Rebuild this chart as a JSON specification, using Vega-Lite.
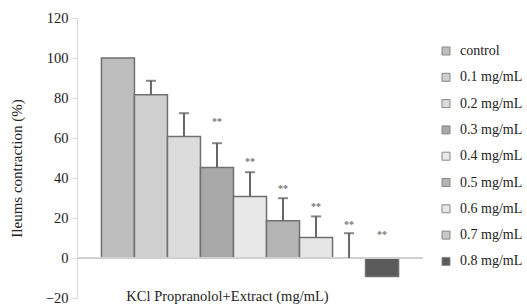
{
  "$schema": "https://vega.github.io/schema/vega-lite/v6.json",
  "width": 346,
  "height": 280,
  "autosize": {"type": "none"},
  "padding": {"left": 77, "top": 18, "right": 104, "bottom": 6},
  "background": "white",
  "config": {
    "view": {"stroke": null},
    "font": "Liberation Serif",
    "axisY": {
      "values": [-20, 0, 20, 40, 60, 80, 100, 120],
      "grid": false,
      "labelOverlap": false,
      "domainColor": "#d8d8d8",
      "tickColor": "#d8d8d8",
      "tickSize": 5,
      "labelPadding": 4,
      "labelFont": "Liberation Serif",
      "labelFontSize": 14.5,
      "labelColor": "#222",
      "titleFont": "Liberation Serif",
      "titleFontSize": 15,
      "titleFontWeight": "normal",
      "titleColor": "#222",
      "titleAngle": -90,
      "titleX": -61,
      "titleY": 150,
      "titleBaseline": "middle",
      "titleAlign": "center"
    }
  },
  "data": {
    "values": [
      {"group": "control", "value": 100, "hi": null, "starY": null, "star": null},
      {"group": "0.1 mg/mL", "value": 81.6, "hi": 88.6, "starY": null, "star": null},
      {"group": "0.2 mg/mL", "value": 60.8, "hi": 72.4, "starY": null, "star": null},
      {"group": "0.3 mg/mL", "value": 45.3, "hi": 57.4, "starY": 67.9, "star": "**"},
      {"group": "0.4 mg/mL", "value": 30.8, "hi": 42.9, "starY": 47.9, "star": "**"},
      {"group": "0.5 mg/mL", "value": 18.6, "hi": 29.9, "starY": 34.3, "star": "**"},
      {"group": "0.6 mg/mL", "value": 10.3, "hi": 20.8, "starY": 25.3, "star": "**"},
      {"group": "0.7 mg/mL", "value": 0, "hi": 12.4, "starY": 16.6, "star": "**"},
      {"group": "0.8 mg/mL", "value": -9.3, "hi": null, "starY": 11.3, "star": "**"}
    ]
  },
  "encoding": {
    "x": {
      "field": "group",
      "type": "nominal",
      "sort": ["control", "0.1 mg/mL", "0.2 mg/mL", "0.3 mg/mL", "0.4 mg/mL", "0.5 mg/mL", "0.6 mg/mL", "0.7 mg/mL", "0.8 mg/mL"],
      "scale": {"paddingInner": 0, "paddingOuter": 0.74},
      "axis": {
        "labels": false,
        "ticks": false,
        "domain": false,
        "title": "KCl Propranolol+Extract (mg/mL)",
        "titleFont": "Liberation Serif",
        "titleFontSize": 14.5,
        "titleFontWeight": "normal",
        "titleColor": "#222",
        "titleX": 150,
        "titleY": -2,
        "titleBaseline": "middle",
        "titleAlign": "center"
      }
    }
  },
  "layer": [
    {
      "mark": {"type": "bar", "stroke": "#707070", "strokeWidth": 1.5},
      "encoding": {
        "y": {
          "field": "value",
          "type": "quantitative",
          "scale": {"domain": [-20, 120], "nice": false},
          "axis": {"title": "Ileums contraction (%)", "labelOverlap": false, "values": [-20, 0, 20, 40, 60, 80, 100, 120]}
        },
        "fill": {
          "field": "group",
          "type": "nominal",
          "sort": ["control", "0.1 mg/mL", "0.2 mg/mL", "0.3 mg/mL", "0.4 mg/mL", "0.5 mg/mL", "0.6 mg/mL", "0.7 mg/mL", "0.8 mg/mL"],
          "scale": {
            "domain": ["control", "0.1 mg/mL", "0.2 mg/mL", "0.3 mg/mL", "0.4 mg/mL", "0.5 mg/mL", "0.6 mg/mL", "0.7 mg/mL", "0.8 mg/mL"],
            "range": ["#bdbdbd", "#cfcfcf", "#dcdcdc", "#a8a8a8", "#e8e8e8", "#b4b4b4", "#e6e6e6", "#c8c8c8", "#5a5a5a"]
          },
          "legend": {
            "title": null,
            "orient": "none",
            "legendX": 362,
            "legendY": 26,
            "symbolType": "square",
            "symbolSize": 64,
            "symbolStrokeColor": "#888",
            "symbolStrokeWidth": 1,
            "labelFont": "Liberation Serif",
            "labelFontSize": 14,
            "labelColor": "#222",
            "labelOffset": 7,
            "rowPadding": 12.3
          }
        }
      }
    },
    {
      "mark": {"type": "rule", "color": "#d0d0d0", "strokeWidth": 1},
      "encoding": {
        "x": null,
        "y": {"datum": 0, "type": "quantitative", "axis": {"title": "Ileums contraction (%)", "labelOverlap": false, "values": [-20, 0, 20, 40, 60, 80, 100, 120]}}
      }
    },
    {
      "transform": [{"filter": "datum.hi != null"}],
      "mark": {"type": "rule", "color": "#666", "strokeWidth": 2},
      "encoding": {
        "y": {"field": "value", "type": "quantitative", "axis": {"title": "Ileums contraction (%)", "labelOverlap": false, "values": [-20, 0, 20, 40, 60, 80, 100, 120]}},
        "y2": {"field": "hi"}
      }
    },
    {
      "transform": [{"filter": "datum.hi != null"}],
      "mark": {"type": "tick", "orient": "horizontal", "color": "#555", "size": 10, "thickness": 2},
      "encoding": {
        "y": {"field": "hi", "type": "quantitative", "axis": {"title": "Ileums contraction (%)", "labelOverlap": false, "values": [-20, 0, 20, 40, 60, 80, 100, 120]}}
      }
    },
    {
      "transform": [{"filter": "datum.star != null"}],
      "mark": {"type": "text", "color": "#777", "fontSize": 10, "fontWeight": "bold", "baseline": "middle", "font": "Liberation Serif"},
      "encoding": {
        "y": {"field": "starY", "type": "quantitative", "axis": {"title": "Ileums contraction (%)", "labelOverlap": false, "values": [-20, 0, 20, 40, 60, 80, 100, 120]}},
        "text": {"field": "star"}
      }
    }
  ]
}
